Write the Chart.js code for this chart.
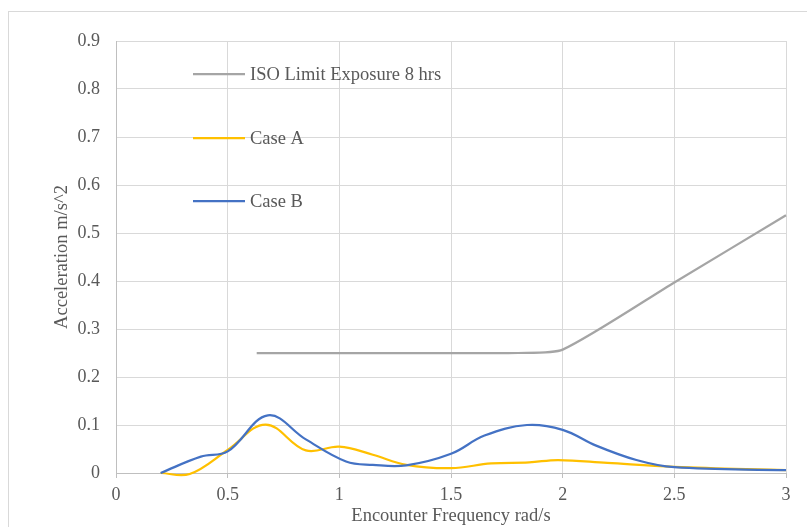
<!DOCTYPE html>
<html>
<head>
<meta charset="utf-8">
<script src="https://cdn.jsdelivr.net/npm/chart.js@4/dist/chart.umd.min.js"></script>
<style>
  html, body { margin: 0; padding: 0; background: #fff; overflow: hidden; }
  #frame { position: absolute; left: 8px; top: 11px; width: 900px; height: 600px; border: 1px solid #d9d9d9; }
  #grafico { position: absolute; left: 0; top: 0; }
</style>
</head>
<body>
<div id="frame"></div>
<canvas id="grafico" width="807" height="527"></canvas>
<script>
// Datos
const isoFreq  = [0.63, 1.0, 1.25, 1.6, 1.8, 2.0, 2.5, 3.0];
const isoAccel = [0.25, 0.25, 0.25, 0.25, 0.25, 0.257, 0.397, 0.537];

const caseAFreq  = [0.2, 0.33, 0.5, 0.67, 0.85, 1.0, 1.15, 1.3, 1.5, 1.68, 1.85, 1.98, 2.2, 2.5, 3.0];
const caseAAccel = [0.0, -0.002, 0.048, 0.101, 0.047, 0.055, 0.038, 0.017, 0.01, 0.02, 0.022, 0.027, 0.021, 0.013, 0.006];

const caseBFreq  = [0.2, 0.38, 0.5, 0.68, 0.85, 1.03, 1.15, 1.3, 1.5, 1.65, 1.84, 2.0, 2.15, 2.33, 2.5, 3.0];
const caseBAccel = [0.0, 0.034, 0.045, 0.12, 0.07, 0.024, 0.017, 0.016, 0.04, 0.078, 0.1, 0.09, 0.057, 0.027, 0.012, 0.006];

const seriesNames  = ['ISO Limit Exposure 8 hrs', 'Case A', 'Case B'];
const seriesColors = ['#a5a5a5', '#ffc000', '#4472c4'];
const seriesTension = [0.22, 0.38, 0.38];

const xTitle = 'Encounter Frequency rad/s';
const yTitle = 'Acceleration m/s^2';

const fuente = 'Liberation Serif, Times New Roman, serif';
const gris = '#595959';

function toPoints(xs, ys) {
    return xs.map((x, i) => ({ x: x, y: ys[i] }));
}

// Leyenda dibujada dentro del area del grafico
const leyendaInterna = {
    id: 'leyendaInterna',
    afterDatasetsDraw(chart) {
        const ctx = chart.ctx;
        const area = chart.chartArea;
        const filas = [33, 97, 160];
        ctx.save();
        ctx.font = '18.5px ' + fuente;
        ctx.textBaseline = 'middle';
        seriesNames.forEach((nombre, i) => {
            const y = area.top + filas[i];
            ctx.strokeStyle = seriesColors[i];
            ctx.lineWidth = 2.25;
            ctx.beginPath();
            ctx.moveTo(area.left + 77, y);
            ctx.lineTo(area.left + 129, y);
            ctx.stroke();
            ctx.fillStyle = gris;
            ctx.fillText(nombre, area.left + 134, y + 1);
        });
        ctx.restore();
    }
};

const datasets = [
    { label: seriesNames[0], data: toPoints(isoFreq, isoAccel), order: 2 },
    { label: seriesNames[1], data: toPoints(caseAFreq, caseAAccel), order: 1 },
    { label: seriesNames[2], data: toPoints(caseBFreq, caseBAccel), order: 0 }
].map((ds, i) => Object.assign(ds, {
    borderColor: seriesColors[i],
    borderWidth: 2.25,
    pointRadius: 0,
    tension: seriesTension[i],
    fill: false,
    clip: 6
}));

new Chart(document.getElementById('grafico').getContext('2d'), {
    type: 'line',
    data: { datasets: datasets },
    options: {
        responsive: false,
        animation: false,
        layout: { padding: { left: 0, top: 41, right: 21, bottom: 0 } },
        plugins: { legend: { display: false }, tooltip: { enabled: false } },
        scales: {
            x: {
                type: 'linear',
                min: 0,
                max: 3,
                ticks: {
                    stepSize: 0.5,
                    padding: 6,
                    color: gris,
                    font: { family: fuente, size: 18 },
                    maxRotation: 0,
                    callback: v => String(+v.toFixed(2))
                },
                grid: { color: '#d9d9d9', lineWidth: 1, drawTicks: true, tickLength: 5, tickColor: '#bfbfbf' },
                border: { color: '#bfbfbf', width: 1 },
                title: { display: true, text: xTitle, color: gris, font: { family: fuente, size: 18.5 }, padding: 0 },
                afterFit: s => { s.height = 54; }
            },
            y: {
                min: 0,
                max: 0.9,
                ticks: {
                    stepSize: 0.1,
                    padding: 16,
                    color: gris,
                    font: { family: fuente, size: 18 },
                    callback: v => String(+v.toFixed(2))
                },
                grid: { color: '#d9d9d9', lineWidth: 1, drawTicks: false },
                border: { color: '#bfbfbf', width: 1 },
                title: { display: true, text: yTitle, color: gris, font: { family: fuente, size: 18.5 }, padding: { top: 51, bottom: 0 } },
                afterFit: s => { s.width = 116; }
            }
        }
    },
    plugins: [leyendaInterna]
});
</script>
</body>
</html>
